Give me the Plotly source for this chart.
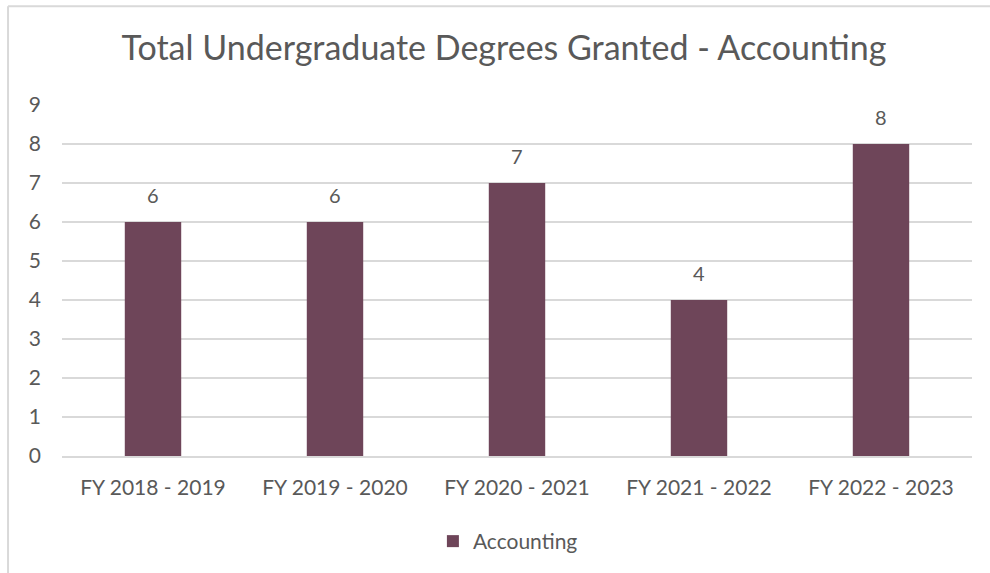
import plotly.graph_objects as go

# chart data
years = ["FY 2018 - 2019", "FY 2019 - 2020", "FY 2020 - 2021", "FY 2021 - 2022", "FY 2022 - 2023"]
degrees = [6, 6, 7, 4, 8]

bar_color = "#6e4559"
text_color = "#595959"
font_family = "Lato, Open Sans, sans-serif"

fig = go.Figure()
fig.add_trace(go.Bar(
    x=years, y=degrees, name="Accounting",
    marker=dict(color=bar_color, line=dict(width=0)),
))

# value labels above the bars
for yr, val in zip(years, degrees):
    fig.add_annotation(x=yr, y=val, text=str(val), showarrow=False,
                       yanchor="bottom", yshift=13,
                       font=dict(size=20, color=text_color, family=font_family))

fig.update_layout(
    width=990, height=573,
    margin=dict(l=62, r=18, t=105, b=116),
    paper_bgcolor="white", plot_bgcolor="white",
    font=dict(family=font_family, color=text_color),
    title=dict(text="Total Undergraduate Degrees Granted - Accounting",
               x=0.509, xanchor="center", y=0.916, yanchor="middle",
               font=dict(size=34, color=text_color, family=font_family)),
    bargap=0.69,
    showlegend=True,
    legend=dict(orientation="h", x=0.49, xanchor="center", y=-0.24, yanchor="middle",
                font=dict(size=21, color=text_color, family=font_family)),
)

fig.update_yaxes(range=[0, 9], dtick=1, showgrid=True, gridcolor="#d9d9d9", gridwidth=1.5,
                 zeroline=False, showline=False,
                 tickfont=dict(size=21, color=text_color), ticklabelstandoff=20)
fig.update_xaxes(showgrid=False, showline=True, linecolor="#d9d9d9", linewidth=1.5,
                 tickfont=dict(size=21, color=text_color), ticklabelstandoff=12)

# outer chart border (extends past the visible frame on right/bottom)
fig.add_shape(type="line", xref="paper", yref="paper",
              x0=-0.0593, x1=1.1, y0=1.281, y1=1.281,
              line=dict(color="#d9d9d9", width=2))
fig.add_shape(type="line", xref="paper", yref="paper",
              x0=-0.0593, x1=-0.0593, y0=1.281, y1=-0.4,
              line=dict(color="#d9d9d9", width=2))

fig.write_html("out.html", config={"displayModeBar": False},
               post_script="document.body.style.margin='0';")
